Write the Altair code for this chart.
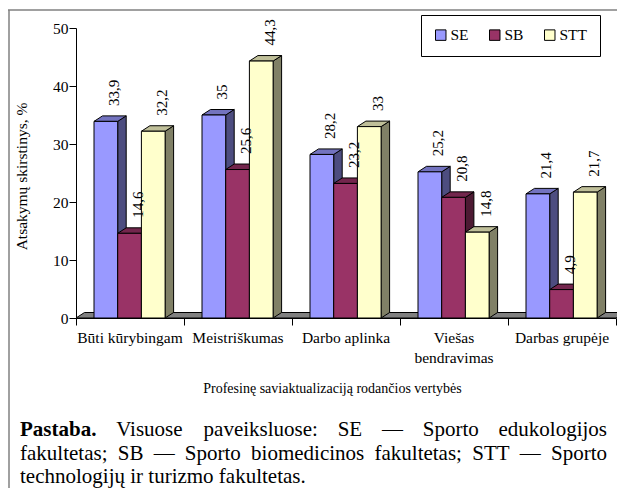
import altair as alt
import pandas as pd

# ---------------- data ----------------
categories = ["Būti kūrybingam", "Meistriškumas", "Darbo aplinka", "Viešas\nbendravimas", "Darbas grupėje"]
series = ["SE", "SB", "STT"]
se_values = [33.9, 35.0, 28.2, 25.2, 21.4]
sb_values = [14.6, 25.6, 23.2, 20.8, 4.9]
stt_values = [32.2, 44.3, 33.0, 14.8, 21.7]
y_ticks = [0, 10, 20, 30, 40, 50]
y_title = "Atsakymų skirstinys, %"
x_title = "Profesinę saviaktualizaciją rodančios vertybės"
note_line1 = ["Pastaba.", "Visuose", "paveiksluose:", "SE", "—", "Sporto", "edukologijos"]
note_line2 = ["fakultetas;", "SB", "—", "Sporto", "biomedicinos", "fakultetas;", "STT", "—", "Sporto"]
note_line3 = "technologijų ir turizmo fakultetas."

# ---------------- styles ----------------
front_colors = ["#9999FF", "#993366", "#FFFFCC"]
top_colors = ["#7373BF", "#73264D", "#BFBF99"]
side_colors = ["#4D4D80", "#4D1A33", "#808066"]
FONT = "Liberation Serif"

# ---------------- geometry ----------------
W, H = 540, 290
X_MAX, Y_MAX = 5, 50
PX_X = W / X_MAX
PX_Y = H / Y_MAX
GROUP_START = 18 / PX_X
BAR_W = 23.7 / PX_X
DEPTH_X = 8.5 / PX_X
DEPTH_Y = 5.5 / PX_Y

values = {"SE": se_values, "SB": sb_values, "STT": stt_values}

front_rows, side_rows, top_rows = [], [], []
for i, cat in enumerate(categories):
    for j, s in enumerate(series):
        v = values[s][i]
        xl = i + GROUP_START + j * BAR_W
        xr = xl + BAR_W
        key = f"{i}-{s}"
        front_rows.append(dict(series=s, xl=xl, xr=xr, base=0, v=v,
                               lx=(xl + xr) / 2 + DEPTH_X, ly=v + DEPTH_Y,
                               label=f"{v:g}".replace(".", ",")))
        side_rows += [dict(key=key, series=s, x=xr, lo=0, hi=v),
                      dict(key=key, series=s, x=xr + DEPTH_X, lo=DEPTH_Y, hi=v + DEPTH_Y)]
        top_rows += [dict(key=key, series=s, y=v, xa=xl, xb=xr),
                     dict(key=key, series=s, y=v + DEPTH_Y, xa=xl + DEPTH_X, xb=xr + DEPTH_X)]

front_df = pd.DataFrame(front_rows)
side_df = pd.DataFrame(side_rows)
top_df = pd.DataFrame(top_rows)
floor_df = pd.DataFrame({"y": [0, DEPTH_Y], "xa": [0, DEPTH_X], "xb": [X_MAX, X_MAX + DEPTH_X]})
cat_df = pd.DataFrame({"cat": categories, "cx": [i + 0.5 for i in range(len(categories))]})

# ---- text layout for the note (Times metrics, Liberation Serif is metric compatible)
REG = {"P": 556, "a": 444, "s": 389, "t": 278, "b": 500, ".": 250, "V": 722, "i": 278,
       "u": 500, "o": 500, "e": 444, "p": 500, "v": 500, "k": 500, "l": 278, ":": 278,
       "S": 556, "E": 611, "—": 1000, "r": 333, "d": 500, "g": 500, "j": 278, "f": 333,
       ";": 278, "B": 667, "m": 778, "c": 444, "n": 500, "T": 611}
BOLD = {"P": 611, "a": 500, "s": 389, "t": 333, "b": 556, ".": 250}
NOTE_SIZE = 21
NOTE_L, NOTE_R = 20 - 76, 607 - 76
NOTE_BASE = [436 - 28, 460 - 28, 483 - 28]


def text_width(word, size, bold=False):
    table = BOLD if bold else REG
    return sum(table.get(ch, 500) for ch in word) * size / 1000


def justify(words, left, right, size, bold_first, base):
    widths = [text_width(w, size, bold_first and k == 0) for k, w in enumerate(words)]
    gap = (right - left - sum(widths)) / (len(words) - 1)
    rows, x = [], left
    for k, (w, wd) in enumerate(zip(words, widths)):
        rows.append(dict(word=w, wx=x / PX_X, wy=(H - base) / PX_Y,
                         bold=bool(bold_first and k == 0)))
        x += wd + gap
    return rows


note_rows = justify(note_line1, NOTE_L, NOTE_R, NOTE_SIZE, True, NOTE_BASE[0])
note_rows += justify(note_line2, NOTE_L, NOTE_R, NOTE_SIZE, False, NOTE_BASE[1])
note_rows.append(dict(word=note_line3, wx=NOTE_L / PX_X, wy=(H - NOTE_BASE[2]) / PX_Y, bold=False))
note_df = pd.DataFrame(note_rows)

# ---------------- scales / axes ----------------
xscale = alt.Scale(domain=[0, X_MAX], nice=False, zero=False)
yscale = alt.Scale(domain=[0, Y_MAX], nice=False)
xaxis = alt.Axis(values=list(range(X_MAX + 1)), labels=False, tickSize=7, grid=False,
                 domainColor="black", tickColor="black", title=x_title,
                 titleFontSize=14, titleFontWeight="normal", titleColor="black",
                 titleX=256, titleY=74, titleBaseline="alphabetic", titleAlign="center")
yaxis = alt.Axis(values=y_ticks, tickSize=7, grid=False, domainColor="black", tickColor="black",
                 labelFontSize=15.5, labelColor="black", labelPadding=1, title=y_title,
                 titleFontSize=15.5, titleFontWeight="normal", titleColor="black",
                 titleAngle=270, titleX=-50, titleY=148, titleBaseline="alphabetic",
                 titleAlign="center")


def X(field):
    return alt.X(field, type="quantitative", scale=xscale, axis=xaxis)


def Y(field):
    return alt.Y(field, type="quantitative", scale=yscale, axis=yaxis)


floor = alt.Chart(floor_df).mark_area(orient="horizontal", fill="#808080", stroke="black",
                                      strokeWidth=1).encode(y=Y("y"), x=X("xa"), x2="xb")

sides = alt.Chart(side_df).mark_area(stroke="black", strokeWidth=1, opacity=1).encode(
    x=X("x"), y=Y("lo"), y2="hi",
    color=alt.Color("series:N", scale=alt.Scale(domain=series, range=side_colors), legend=None),
    detail="key:N")

tops = alt.Chart(top_df).mark_area(orient="horizontal", stroke="black", strokeWidth=1, opacity=1).encode(
    y=Y("y"), x=X("xa"), x2="xb",
    color=alt.Color("series:N", scale=alt.Scale(domain=series, range=top_colors), legend=None),
    detail="key:N")

fronts = alt.Chart(front_df).mark_rect(stroke="black", strokeWidth=1, opacity=1).encode(
    x=X("xl"), x2="xr", y=Y("base"), y2="v",
    color=alt.Color("series:N", scale=alt.Scale(domain=series, range=front_colors),
                    legend=alt.Legend(title=None, orient="none", legendX=345, legendY=-13,
                                      direction="horizontal", symbolType="square",
                                      symbolSize=110, symbolStrokeColor="black",
                                      symbolStrokeWidth=1, labelFont=FONT, labelFontSize=15.5,
                                      labelColor="black", labelOffset=2, columnPadding=18,
                                      padding=12, strokeColor="black", fillColor="white")))

value_labels = alt.Chart(front_df).mark_text(angle=270, align="left", baseline="middle", dx=10,
                                             fontSize=15, color="black").encode(
    x=X("lx"), y=Y("ly"), text="label:N")

cat_labels = alt.Chart(cat_df).mark_text(baseline="alphabetic", align="center", lineBreak="\n",
                                         lineHeight=20, fontSize=15.5, color="black").encode(
    x=X("cx"), y=alt.value(315), text="cat:N")

one = pd.DataFrame({"a": [0]})
frame_top = alt.Chart(one).mark_rule(color="#808080", strokeWidth=1.5).encode(
    x=alt.value(-68), x2=alt.value(549), y=alt.value(-18))
frame_left = alt.Chart(one).mark_rule(color="#808080", strokeWidth=1.5).encode(
    x=alt.value(-67), y=alt.value(-18), y2=alt.value(470))

note_bold = alt.Chart(note_df).transform_filter("datum.bold").mark_text(
    align="left", baseline="alphabetic", fontSize=NOTE_SIZE, fontWeight="bold", color="black").encode(
    x=X("wx"), y=Y("wy"), text="word:N")
note_reg = alt.Chart(note_df).transform_filter("!datum.bold").mark_text(
    align="left", baseline="alphabetic", fontSize=NOTE_SIZE, color="black").encode(
    x=X("wx"), y=Y("wy"), text="word:N")

chart = alt.layer(
    frame_top, frame_left, floor, sides, tops, fronts, value_labels, cat_labels, note_bold, note_reg
).resolve_scale(color="independent").properties(
    width=W, height=H,
    autosize=alt.AutoSizeParams(type="none"),
    padding={"left": 68, "top": 20, "right": 1, "bottom": 170},
).configure(font=FONT).configure_view(stroke=None)

chart.save("out.html", embed_options={"renderer": "svg", "actions": False})
